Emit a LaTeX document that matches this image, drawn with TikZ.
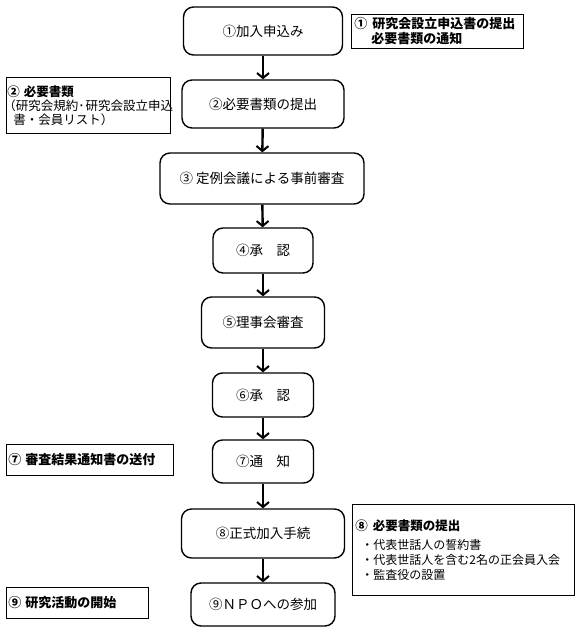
\documentclass[tikz,border=0pt]{standalone}
\usepackage{fontspec}
\setmainfont{Noto Sans CJK JP}
\usetikzlibrary{arrows.meta}
\tikzset{
  stepbox/.style={draw, line width=1.4pt, rounded corners=10pt, inner sep=0pt,
    font=\fontsize{13.5}{16}\selectfont},
  note/.style={draw, line width=0.9pt, anchor=north west, inner sep=0pt, align=left},
  arr/.style={line width=2.4pt, -{Straight Barb[length=5pt,width=12pt,line width=2pt]}},
}
\begin{document}
\begin{tikzpicture}[x=1pt,y=1pt]
\useasboundingbox (0,0) rectangle (580,-632);
\node[stepbox, minimum width=159pt, minimum height=48pt] (b1) at (263,-31) {①加入申込み};
\node[stepbox, minimum width=162pt, minimum height=48pt] (b2) at (263,-104) {②必要書類の提出};
\node[stepbox, minimum width=204pt, minimum height=51pt] (b3) at (262,-178.5) {③ 定例会議による事前審査};
\node[stepbox, minimum width=100pt, minimum height=45pt] (b4) at (263,-250.5) {④承　認};
\node[stepbox, minimum width=123pt, minimum height=51pt] (b5) at (263,-322.5) {⑤理事会審査};
\node[stepbox, minimum width=101pt, minimum height=44pt] (b6) at (263,-395) {⑥承　認};
\node[stepbox, minimum width=101pt, minimum height=43pt] (b7) at (263,-461.5) {⑦通　知};
\node[stepbox, minimum width=163pt, minimum height=49pt] (b8) at (263,-533.5) {⑧正式加入手続};
\node[stepbox, minimum width=144pt, minimum height=43pt] (b9) at (263,-604.5) {⑨ＮＰＯへの参加};
\foreach \a/\b in {b1/b2,b2/b3,b3/b4,b4/b5,b5/b6,b6/b7,b7/b8,b8/b9}
  \draw[arr] (\a) -- (\b);
% side notes
\node[note, minimum width=172pt, minimum height=34pt, text width=166pt, inner xsep=3pt,
  font=\fontsize{13}{15}\selectfont\bfseries] (n1) at (351,-14)
  {\mbox{①\hspace{5pt}研究会設立申込書の提出}\\\mbox{\hspace{17pt}必要書類の通知}};
\node[note, minimum width=164pt, minimum height=56pt, text width=162pt, inner xsep=1pt,
  font=\fontsize{12.5}{14}\selectfont] (n2) at (6,-77)
  {\mbox{\bfseries ②\hspace{4pt}必要書類}\\\mbox{\hspace{-4pt}（研究会規約･\hspace{1pt}研究会設立申込}\\\mbox{\hspace{6pt}書・会員リスト）}};
\node[note, minimum width=167pt, minimum height=31pt, text width=163pt, inner xsep=2pt,
  font=\fontsize{13}{15}\selectfont\bfseries] (n7) at (6,-444)
  {\mbox{⑦\hspace{4pt}審査結果通知書の送付}};
\node[note, minimum width=222pt, minimum height=91pt, text width=216pt, inner xsep=3pt,
  font=\fontsize{12}{15}\selectfont] (n8) at (352,-504)
  {\mbox{\fontsize{12.5}{15}\selectfont\bfseries ⑧\hspace{5pt}必要書類の提出}\\[4pt]
   \mbox{\hspace{6pt}・代表世話人の誓約書}\\
   \mbox{\hspace{6pt}・代表世話人を含む2名の正会員入会}\\
   \mbox{\hspace{6pt}・監査役の設置}};
\node[note, minimum width=142pt, minimum height=31pt, text width=138pt, inner xsep=2pt,
  font=\fontsize{13}{15}\selectfont\bfseries] (n9) at (6,-587)
  {\mbox{⑨\hspace{4pt}研究活動の開始}};
\end{tikzpicture}
\end{document}
